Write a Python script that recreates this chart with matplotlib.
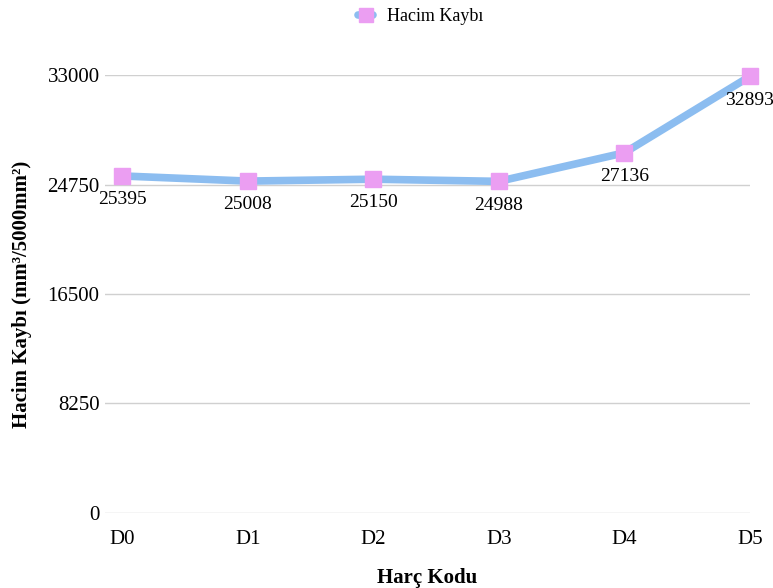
import matplotlib.pyplot as plt

plt.rcParams['font.family'] = ['Liberation Serif', 'DejaVu Serif']

codes = ["D0", "D1", "D2", "D3", "D4", "D5"]
loss = [25395, 25008, 25150, 24988, 27136, 32893]
yticks = [0, 8250, 16500, 24750, 33000]

line_color = "#8cbdf0"
marker_color = "#eb9ef2"

fig = plt.figure(figsize=(7.73, 5.88), dpi=100)
ax = fig.add_axes([0.136, 0.1276, 0.834, 0.7448])

x = list(range(len(codes)))
ax.plot(x, loss, color=line_color, linewidth=5.5, marker="s", markersize=12,
        markerfacecolor=marker_color, markeredgecolor=marker_color,
        label="Hacim Kaybı", solid_capstyle="round", clip_on=False)

for xi, v in zip(x, loss):
    ax.annotate(str(v), (xi, v), xytext=(0, -11), textcoords="offset points",
                ha="center", va="top", fontsize=14)

ax.set_xlim(-0.136, 5.0)
ax.set_ylim(0, 33000)
ax.set_yticks(yticks)
ax.set_yticklabels([str(t) for t in yticks])
ax.set_xticks(x)
ax.set_xticklabels(codes)
ax.tick_params(axis="both", length=0, labelsize=15)
ax.tick_params(axis="y", pad=4)
ax.tick_params(axis="x", pad=12)
ax.grid(axis="y", color="#d0d0d0", linewidth=1)
ax.set_axisbelow(True)
for s in ax.spines.values():
    s.set_visible(False)

ax.set_xlabel("Harç Kodu", fontsize=15, fontweight="bold", labelpad=14)
ax.set_ylabel("Hacim Kaybı (mm³/5000mm²)", fontsize=15, fontweight="bold")
ax.yaxis.set_label_coords(-0.114, 0.5)

ax.legend(loc="upper center", bbox_to_anchor=(0.49, 1.19), frameon=False,
          fontsize=13, handlelength=0.8, markerscale=0.8)

fig.savefig("out.png", dpi=100)
